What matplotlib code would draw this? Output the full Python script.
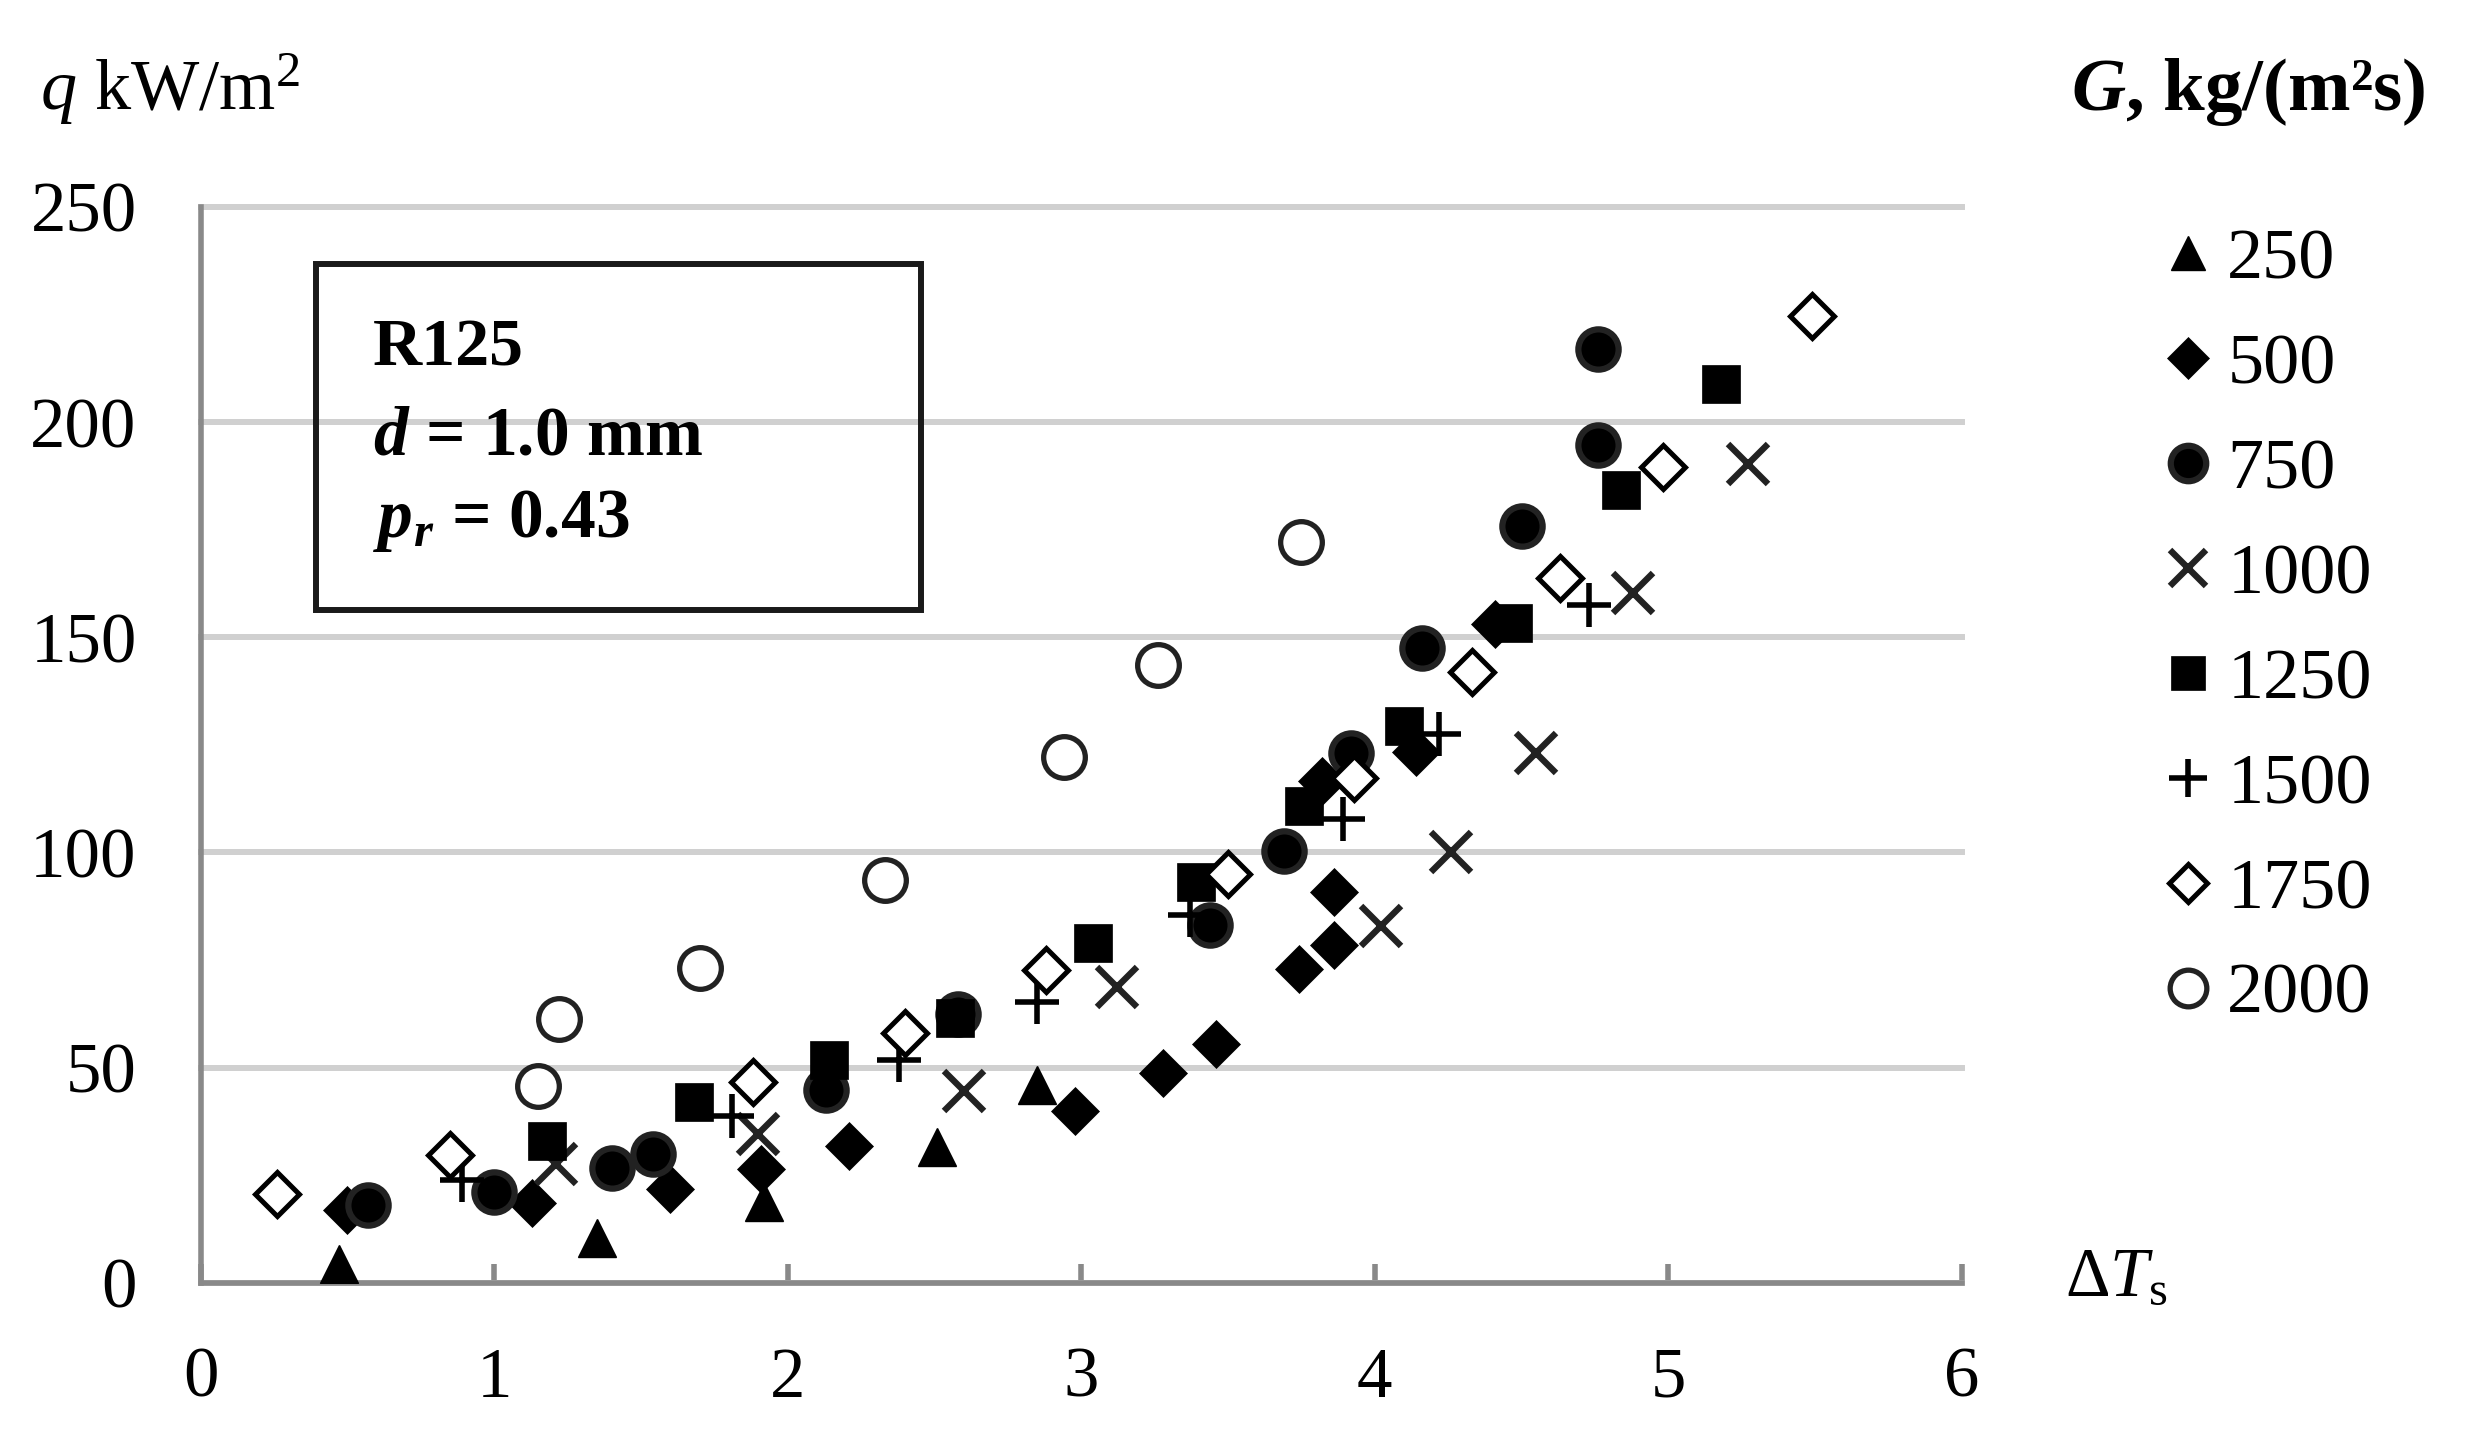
import matplotlib
matplotlib.use("Agg")
import matplotlib.pyplot as plt
from matplotlib.patches import Rectangle

plt.rcParams['font.family'] = ['Liberation Serif', 'DejaVu Serif']
plt.rcParams['mathtext.fontset'] = 'custom'
plt.rcParams['mathtext.rm'] = 'Liberation Serif'
plt.rcParams['mathtext.it'] = 'Liberation Serif:italic'
plt.rcParams['mathtext.bf'] = 'Liberation Serif:bold'
plt.rcParams['mathtext.bfit'] = 'Liberation Serif:italic:bold'

# ---------------- data ----------------
g250_x = [0.47, 1.35, 1.92, 2.51, 2.85]
g250_y = [4.3, 10.5, 18.8, 31.6, 45.9]

g500_x = [0.50, 1.13, 1.60, 1.91, 2.21, 2.98, 3.28, 3.46, 3.74, 3.86, 3.86, 3.82, 4.14, 4.41]
g500_y = [16.9, 18.5, 21.8, 26.4, 31.8, 40.0, 48.8, 55.4, 72.8, 78.5, 90.9, 116.5, 123.4, 153.2]

g750_x = [0.57, 1.00, 1.40, 1.54, 2.13, 2.58, 3.44, 3.69, 3.92, 4.16, 4.50, 4.76, 4.76]
g750_y = [18.1, 21.1, 26.7, 29.9, 44.8, 62.4, 83.1, 100.4, 123.0, 147.6, 175.8, 194.8, 217.0]

g1000_x = [1.21, 1.90, 2.60, 3.12, 4.02, 4.26, 4.55, 4.88, 5.27]
g1000_y = [27.7, 34.6, 44.6, 68.8, 82.9, 100.2, 123.0, 160.2, 190.2]

g1250_x = [1.18, 1.68, 2.14, 2.57, 3.04, 3.39, 3.76, 4.10, 4.47, 4.84, 5.18]
g1250_y = [32.9, 42.1, 51.8, 61.6, 78.9, 93.2, 110.9, 129.4, 153.4, 184.2, 208.8]

g1500_x = [0.89, 1.81, 2.38, 2.85, 3.37, 3.89, 4.22, 4.73]
g1500_y = [23.9, 38.8, 51.8, 65.2, 85.5, 107.8, 127.5, 157.4]

g1750_x = [0.26, 0.85, 1.88, 2.40, 2.88, 3.50, 3.93, 4.33, 4.63, 4.98, 5.49]
g1750_y = [20.5, 29.7, 46.6, 58.0, 72.7, 95.1, 117.2, 142.0, 163.8, 189.6, 224.7]

g2000_x = [1.15, 1.22, 1.70, 2.33, 2.94, 3.26, 3.75]
g2000_y = [45.7, 61.4, 73.2, 93.6, 122.2, 143.5, 172.2]

labels = ["250", "500", "750", "1000", "1250", "1500", "1750", "2000"]
xticks = [0, 1, 2, 3, 4, 5, 6]
yticks = [0, 50, 100, 150, 200, 250]

series_x = [g250_x, g500_x, g750_x, g1000_x, g1250_x, g1500_x, g1750_x, g2000_x]
series_y = [g250_y, g500_y, g750_y, g1000_y, g1250_y, g1500_y, g1750_y, g2000_y]

styles = [
    dict(marker='^', ms=28, mfc='black', mec='black', mew=1.0),
    dict(marker='D', ms=24, mfc='black', mec='black', mew=0.5),
    dict(marker='o', ms=29, mfc='black', mec='#222222', mew=4.5),
    dict(marker='x', ms=29, mfc='#222222', mec='#222222', mew=4.6),
    dict(marker='s', ms=28, mfc='black', mec='black', mew=0.5),
    dict(marker='+', ms=31, mfc='black', mec='black', mew=4.0),
    dict(marker='D', ms=22, mfc='white', mec='black', mew=3.6),
    dict(marker='o', ms=30, mfc='white', mec='#222222', mew=3.8),
]

W, H, DPI = 2477, 1430, 100
FS = 51
fig = plt.figure(figsize=(W / DPI, H / DPI), dpi=DPI)
ax = fig.add_axes([200.6 / W, 1 - 1282.7 / H, (1962 - 200.6) / W, (1282.7 - 207) / H])

handles = []
for xs, ys, st, lab in zip(series_x, series_y, styles, labels):
    h, = ax.plot(xs, ys, linestyle='none', label=lab, zorder=3, **st)
    handles.append(h)

ax.set_xlim(0, 6)
ax.set_ylim(0, 250)
ax.set_xticks(xticks)
ax.set_yticks(yticks)
ax.set_xticklabels([str(t) for t in xticks])
ax.set_yticklabels([str(t) for t in yticks])

ax.set_axisbelow(True)
ax.yaxis.grid(True, color='#d0d0d0', linewidth=4.3)
for gl in ax.get_ygridlines():
    gl.set_clip_on(False)
ax.xaxis.grid(False)

for s in ['top', 'right']:
    ax.spines[s].set_visible(False)
for s in ['left', 'bottom']:
    ax.spines[s].set_color('#898989')
    ax.spines[s].set_linewidth(4.0)

ax.tick_params(axis='x', direction='in', length=14, width=4, color='#898989',
               labelsize=FS, pad=46)
ax.tick_params(axis='y', length=0, labelsize=FS, pad=46)

# info box
ax.add_patch(Rectangle((0.0655, 0.625), 0.3435, 0.322, transform=ax.transAxes,
                       fill=False, edgecolor='#1a1a1a', linewidth=4.3, zorder=5))
fig.text(373 / W, 1 - 366 / H, "R125", fontsize=49, fontweight='bold', va='baseline')
fig.text(373 / W, 1 - 455 / H, r"$\mathbfit{d}$ = 1.0 mm", fontsize=50,
         fontweight='bold', va='baseline')
fig.text(373 / W, 1 - 537 / H, r"$\mathbfit{p}_{\mathbfit{r}}$ = 0.43", fontsize=50,
         fontweight='bold', va='baseline')

# axis labels
fig.text(40 / W, 1 - 110 / H, r"$\mathit{q}$ kW/m$^2$", fontsize=52, va='baseline')
fig.text(2065 / W, 1 - 1295 / H, r"Δ$\mathit{T}_{\mathrm{s}}$", fontsize=50, va='baseline')

# legend
fig.text(2425 / W, 1 - 110 / H, r"$\mathbfit{G}$, kg/(m²s)", fontsize=54,
         fontweight='bold', ha='right', va='baseline')
leg = fig.legend(handles=handles, labels=labels, loc='upper left',
                 bbox_to_anchor=(2163 / W, 1 - 228 / H), frameon=False,
                 fontsize=52, handlelength=0.7, handletextpad=0.19,
                 labelspacing=0.545, markerscale=0.88, borderpad=0, borderaxespad=0)

fig.savefig("out.png", dpi=DPI)
